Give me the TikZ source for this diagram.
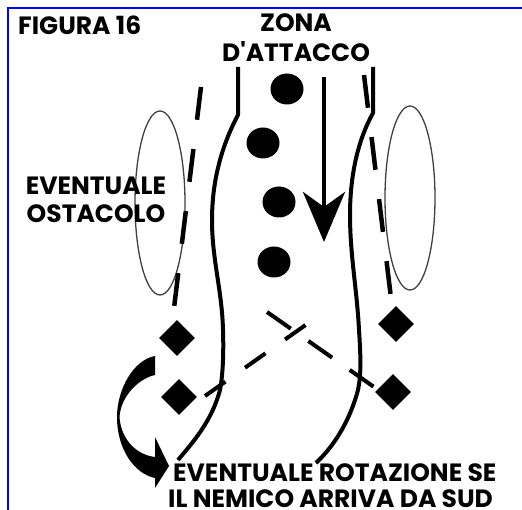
\documentclass[tikz,border=0pt]{standalone}
\usepackage{fontspec}
\newfontfamily\lbl{Poppins}
\usetikzlibrary{shapes.geometric,arrows.meta}
\begin{document}
\begin{tikzpicture}[x=1pt,y=-1pt,
  stream/.style={line width=4pt,line join=round},
  bankdash/.style={line width=4.5pt,dash pattern=on 33pt off 29.5pt},
  crossdash/.style={line width=4pt},
  obstacle/.style={ellipse,draw=black!75,line width=1.3pt,minimum width=50pt,minimum height=184pt,inner sep=0pt},
  dot/.style={ellipse,fill=black,minimum width=33pt,minimum height=31pt,inner sep=0pt},
  post/.style={diamond,fill=black,minimum width=36pt,minimum height=36pt,inner sep=0pt,aspect=1},
  txt/.style={font=\lbl\bfseries\fontsize{25}{30}\selectfont,inner sep=0pt,text=black}
]
\useasboundingbox (0,0) rectangle (522,510);
\fill[white] (0,0) rectangle (522,510);
% blue frame (top and left)
\draw[blue,line width=2pt] (8,510) -- (8,8) -- (522,8);

% obstacles
\node[obstacle] (obsL) at (160,203) {};
\node[obstacle] (obsR) at (410,198) {};

% stream banks (solid)
\coordinate (lbTop) at (238,67);
\coordinate (lbEnd) at (178,460);
\coordinate (rbTop) at (373,67);
\coordinate (rbEnd) at (316,463);
\draw[stream] (lbTop) -- (238,115) .. controls (222,145) and (212,180) .. (212,220)
  .. controls (212,260) and (222,290) .. (223,330) .. controls (224,360) and (222,380) .. (220,390)
  .. controls (212,420) and (195,440) .. (lbEnd);
\draw[stream] (rbTop) -- (373,113) .. controls (358,140) and (350,175) .. (350,215)
  .. controls (350,255) and (357,290) .. (359,330) .. controls (361,360) and (361,375) .. (358,390)
  .. controls (350,420) and (335,445) .. (rbEnd);

% dashed banks
\coordinate (ldA) at (201,87);
\coordinate (ldB) at (174,308);
\coordinate (rdA) at (364,75);
\coordinate (rdB) at (391,298);
\draw[bankdash] (ldA) -- (ldB);
\draw[bankdash] (rdA) -- (rdB);

% crossing dashed lines
\coordinate (xa1) at (267,312);
\coordinate (xa2) at (374,387);
\coordinate (xb1) at (205,396);
\coordinate (xb2) at (307,324);
\draw[crossdash,dash pattern=on 29pt off 21.5pt] (xa1) -- (xa2);
\draw[crossdash,dash pattern=on 25pt off 24pt] (xb1) -- (xb2);

% dots
\node[dot] (d1) at (287,89) {};
\node[dot] (d2) at (263,143) {};
\node[dot] (d3) at (279,202) {};
\node[dot] (d4) at (274,262) {};

% diamonds
\node[post] (p1) at (177,338) {};
\node[post] (p2) at (179,397) {};
\node[post] (p3) at (396,324) {};
\node[post] (p4) at (393,392) {};

% attack arrow
\coordinate (arrS) at (324,77);
\coordinate (arrT) at (324,242);
\draw[line width=4.5pt,-{Stealth[length=50pt,width=42pt,inset=15pt]}] (arrS) -- (arrT);

% rotation arrow
\fill (155,356) .. controls (133,360) and (117,390) .. (117,417)
  .. controls (117,450) and (135,474) .. (155,478)
  -- (155,488) -- (169,466) -- (155,437) -- (155,457)
  .. controls (137,455) and (121,440) .. (119.5,417)
  .. controls (121,395) and (140,378) .. (155,375) -- cycle;

% texts
\node[txt,anchor=base west] (fig) at (18,35) {FIGURA 16};
\node[txt,anchor=base] (zona1) at (296,32) {ZONA};
\node[txt,anchor=base] (zona2) at (296,62) {D'ATTACCO};
\node[txt,anchor=base] (ost1) at (96,195) {EVENTUALE};
\node[txt,anchor=base] (ost2) at (96,223) {OSTACOLO};
\node[txt,anchor=base west] (rot1) at (173,481) {EVENTUALE ROTAZIONE SE};
\node[txt,anchor=base west] (rot2) at (168,507) {IL NEMICO ARRIVA DA SUD};
\end{tikzpicture}
\end{document}
